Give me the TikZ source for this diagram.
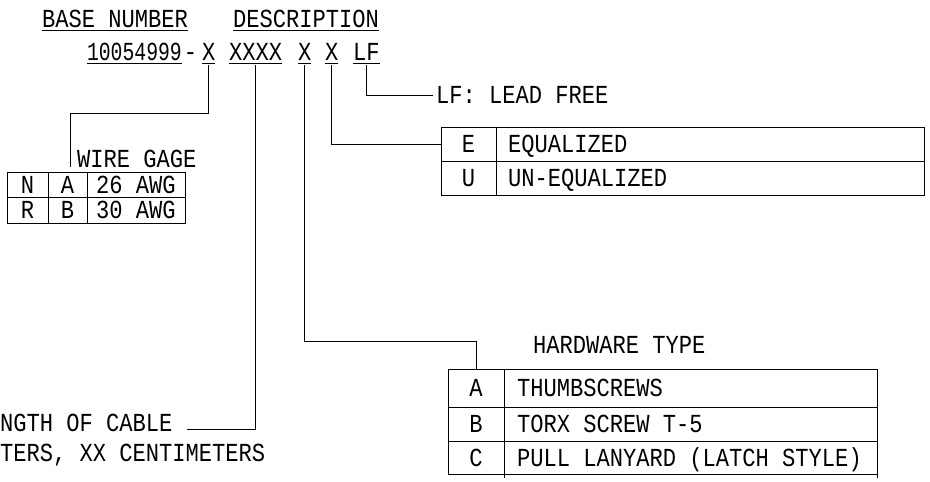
\documentclass[tikz,border=0pt]{standalone}
\usepackage{fontspec}
\newfontfamily\cadfont[FakeStretch=0.85]{Liberation Mono}
\newfontfamily\cadnarrow[FakeStretch=0.76]{Liberation Mono}
\usetikzlibrary{positioning}
\tikzset{
  lbl/.style={font=\cadfont\fontsize{26}{30}\selectfont,inner sep=0pt,outer sep=0pt,anchor=base west},
  cell/.style={draw,line width=1pt,font=\cadfont\fontsize{26}{30}\selectfont,inner sep=0pt,outer sep=0pt,
               text height=17pt,text depth=0pt},
  keycell/.style={cell,minimum width=#1},
  desccell/.style 2 args={cell,align=left,text width=#1,
               execute at begin node={\spaceskip=0pt\xspaceskip=0pt\hspace*{#2}}},
  lead/.style={line width=1pt,shorten <=5pt},
  ul/.style={line width=1pt},
}
\begin{document}
\begin{tikzpicture}[x=1pt,y=-1pt]
  \useasboundingbox (0,0) rectangle (930,482);
  % headings
  \node[lbl] (basehd) at (42,27) {BASE NUMBER};
  \node[lbl] (deschd) at (233,27) {DESCRIPTION};
  % part number
  \node[lbl,font=\cadnarrow\fontsize{26}{30}\selectfont] (num) at (87,60) {10054999};
  \node[lbl,right=2pt of num.base east,anchor=base west] (dash) {-};
  \node[lbl] (xg) at (202,60) {X};
  \node[lbl] (xlen) at (229,60) {XXXX};
  \node[lbl] (xhw) at (298,60) {X};
  \node[lbl] (xeq) at (325,60) {X};
  \node[lbl] (lf) at (353,60) {LF};
  \foreach \n in {basehd,deschd,num,xg,xlen,xhw,xeq,lf}
    \draw[ul] ([yshift=-3pt]\n.base west) -- ([yshift=-3pt]\n.base east);

  % lead free
  \node[lbl,anchor=west,inner xsep=3pt,text height=17pt,text depth=0pt] (lfnote) at (433,95) {LF: LEAD FREE};
  \draw[lead] (lf.south) |- (lfnote.west);

  % equalization
  \node[keycell=55,minimum height=34pt,anchor=north west] (eqE) at (441,127) {E};
  \node[desccell={428}{12pt},minimum height=34pt,right=0pt of eqE] (eqEd) {EQUALIZED};
  \node[keycell=55,minimum height=34pt,below=0pt of eqE] (eqU) {U};
  \node[desccell={428}{12pt},minimum height=34pt,right=0pt of eqU] (eqUd) {UN-EQUALIZED};
  \draw[lead] (xeq.south) |- (eqE.west);

  % hardware type
  \node[lbl] (hwhd) at (533,353) {HARDWARE TYPE};
  \node[keycell=56,minimum height=38pt,anchor=north west] (hwA) at (448,369) {A};
  \node[desccell={373}{13pt},minimum height=38pt,right=0pt of hwA] (hwAd) {THUMBSCREWS};
  \node[keycell=56,minimum height=34pt,below=0pt of hwA] (hwB) {B};
  \node[desccell={373}{13pt},minimum height=34pt,right=0pt of hwB] (hwBd) {TORX SCREW T-5};
  \node[keycell=56,minimum height=33pt,below=0pt of hwB] (hwC) {C};
  \node[desccell={373}{13pt},minimum height=33pt,right=0pt of hwC] (hwCd) {PULL LANYARD (LATCH STYLE)};
  \draw[ul] (hwC.south east) -- ++(0,4);
  \draw[ul] (hwCd.south east) -- ++(0,4);
  \draw[lead] (xhw.south) |- ([yshift=28pt]hwA.north) -- (hwA.north);

  % wire gage
  \node[lbl] (gagehd) at (77,167) {WIRE GAGE};
  \node[keycell=41,minimum height=25.5pt,anchor=north west] (gN) at (7,172) {N};
  \node[keycell=39,minimum height=25.5pt,right=0pt of gN] (gA) {A};
  \node[desccell={98}{9pt},minimum height=25.5pt,right=0pt of gA] (g26) {26 AWG};
  \node[keycell=41,minimum height=25.5pt,below=0pt of gN] (gR) {R};
  \node[keycell=39,minimum height=25.5pt,right=0pt of gR] (gB) {B};
  \node[desccell={98}{9pt},minimum height=25.5pt,right=0pt of gB] (g30) {30 AWG};
  \coordinate[left=7pt of gagehd.base west] (gageend);
  \draw[lead] (xg.south) |- ([yshift=54pt]gageend) -- (gageend);

  % cable length
  \node[lbl] (len1) at (0,431) {NGTH OF CABLE};
  \node[lbl] (len2) at (0,461) {TERS, XX CENTIMETERS};
  \draw[lead] (xlen.south) |- ([xshift=15pt,yshift=2pt]len1.base east);
\end{tikzpicture}
\end{document}
